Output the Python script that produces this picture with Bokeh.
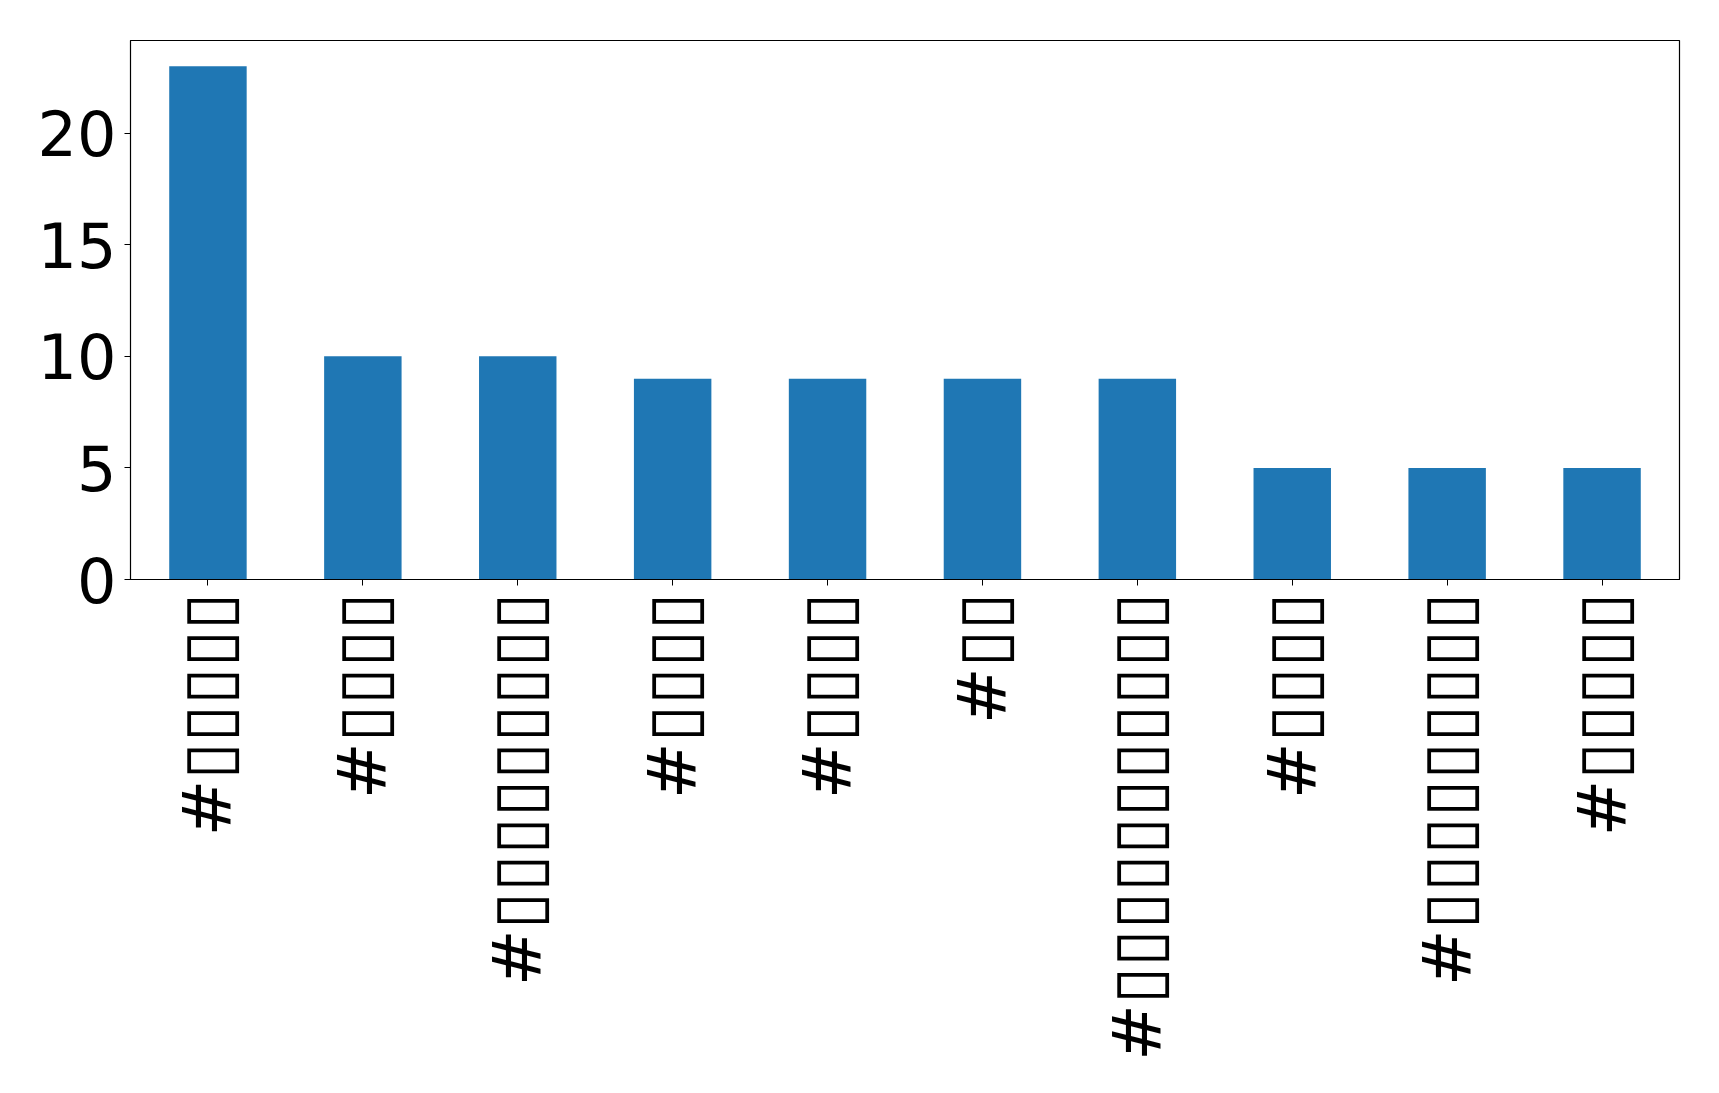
from bokeh.plotting import figure
from bokeh.models import FixedTicker, Range1d
from bokeh.embed import file_html
from bokeh.resources import INLINE
import math

labels = ["#▯▯▯▯▯", "#▯▯▯▯", "#▯▯▯▯▯▯▯▯▯", "#▯▯▯▯", "#▯▯▯▯",
          "#▯▯", "#▯▯▯▯▯▯▯▯▯▯▯", "#▯▯▯▯", "#▯▯▯▯▯▯▯▯▯", "#▯▯▯▯▯"]
counts = [23, 10, 10, 9, 9, 9, 9, 5, 5, 5]
positions = list(range(len(labels)))
y_ticks = [0, 5, 10, 15, 20]

p = figure(frame_width=1549, frame_height=539,
           min_border_left=130, min_border_right=21, min_border_top=40, min_border_bottom=498,
           x_range=Range1d(-0.5, len(labels) - 0.5), y_range=Range1d(0, max(counts) * 1.05),
           output_backend="svg", toolbar_location=None)

p.vbar(x=positions, top=counts, width=0.5, bottom=0, color="#1f77b4", line_color=None)

p.xgrid.visible = False
p.ygrid.visible = False
p.outline_line_color = "black"
p.outline_line_width = 1.2

p.xaxis.ticker = FixedTicker(ticks=positions)
p.xaxis.major_label_overrides = {i: l for i, l in enumerate(labels)}
p.xaxis.major_label_orientation = math.pi / 2
p.yaxis.ticker = FixedTicker(ticks=y_ticks)

for ax in (p.xaxis[0], p.yaxis[0]):
    ax.minor_tick_line_color = None
    ax.major_tick_out = 6
    ax.major_tick_in = 0
    ax.major_tick_line_color = "black"
    ax.axis_line_color = "black"
    ax.major_label_text_font = "DejaVu Sans"
    ax.major_label_text_color = "black"

p.yaxis.major_label_text_font_size = "62px"
p.xaxis.major_label_text_font_size = "68px"
p.xaxis.major_label_standoff = 7
p.yaxis.major_label_standoff = 8

open("out.html", "w").write(file_html(p, INLINE))
